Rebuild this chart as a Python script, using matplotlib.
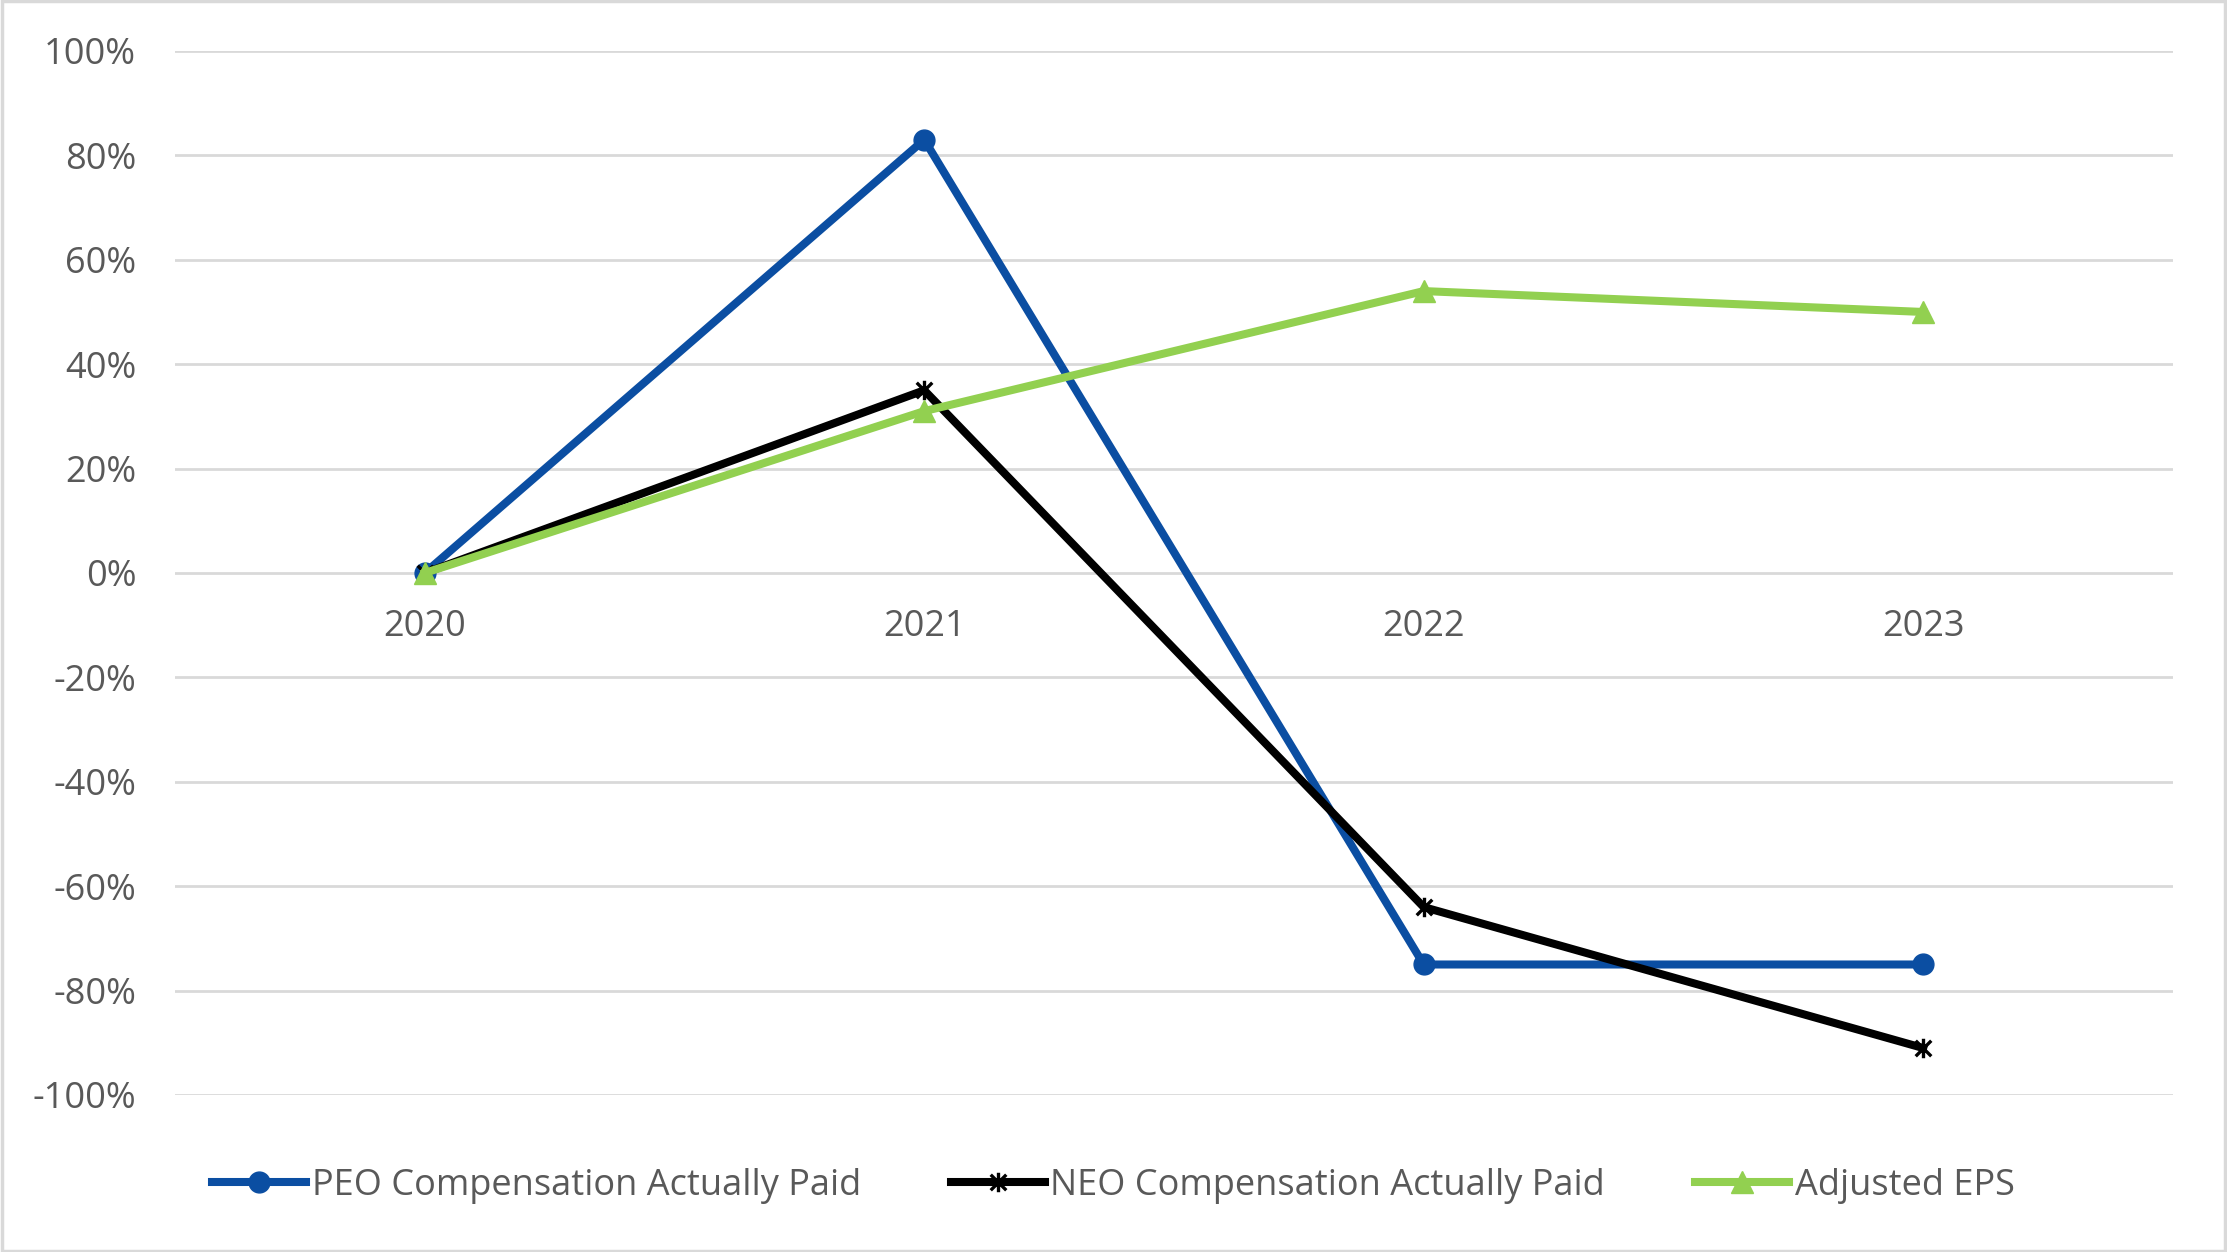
import numpy as np
import matplotlib
matplotlib.use("Agg")
import matplotlib.pyplot as plt
from matplotlib.path import Path
from matplotlib.patches import Rectangle
from matplotlib.ticker import FuncFormatter

plt.rcParams["font.family"] = ["Open Sans", "DejaVu Sans"]

# ── data ─────────────────────────────────────────────────────
years = ["2020", "2021", "2022", "2023"]
peo_cap = [0, 83, -75, -75]
neo_cap = [0, 35, -64, -91]
adj_eps = [0, 31, 54, 50]

TEXT = "#595959"
GRID = "#d9d9d9"
BLUE = "#0b4ea2"
GREEN = "#92d050"
FS = 26

# Excel "star" marker: X with a vertical bar through it
star = Path([(-1, -1), (1, 1), (-1, 1), (1, -1), (0, -1.25), (0, 1.25)],
            [Path.MOVETO, Path.LINETO, Path.MOVETO, Path.LINETO,
             Path.MOVETO, Path.LINETO])

fig = plt.figure(figsize=(22.27, 12.52), dpi=100)
ax = fig.add_axes([0.0786, 0.1254, 0.8971, 0.8339])

x = np.arange(len(years))
ax.plot(x, peo_cap, color=BLUE, lw=5.8, marker="o", ms=15,
        label="PEO Compensation Actually Paid", zorder=3)
ax.plot(x, neo_cap, color="black", lw=5.8, marker=star, ms=14, mew=2.4,
        label="NEO Compensation Actually Paid", zorder=4)
ax.plot(x, adj_eps, color=GREEN, lw=5.8, marker="^", ms=16,
        label="Adjusted EPS", zorder=5)

ax.set_xlim(-0.5, len(years) - 0.5)
ax.set_ylim(-100, 100)
ax.set_yticks(np.arange(-100, 101, 20))
ax.yaxis.set_major_formatter(FuncFormatter(lambda v, p: f"{v:.0f}%"))
ax.set_xticks(x)
ax.set_xticklabels(years)

ax.grid(axis="y", color=GRID, lw=2)
ax.set_axisbelow(True)
for s in ["top", "right", "left"]:
    ax.spines[s].set_visible(False)
ax.spines["bottom"].set_position(("data", 0))
ax.spines["bottom"].set_visible(False)
ax.tick_params(axis="y", length=0, pad=28, labelsize=FS, labelcolor=TEXT)
ax.tick_params(axis="x", length=0, pad=26, labelsize=FS, labelcolor=TEXT)

fig.legend(loc="center", bbox_to_anchor=(0.5, 0.053), ncol=3, frameon=False,
           fontsize=FS, labelcolor=TEXT, handlelength=2.6, handletextpad=0.15,
           columnspacing=2.5)

# chart border
fig.patches.append(Rectangle((0.001, 0.001), 0.998, 0.998, transform=fig.transFigure,
                             fill=False, edgecolor=GRID, lw=2.5))

fig.savefig("out.png", dpi=100, facecolor="white")
